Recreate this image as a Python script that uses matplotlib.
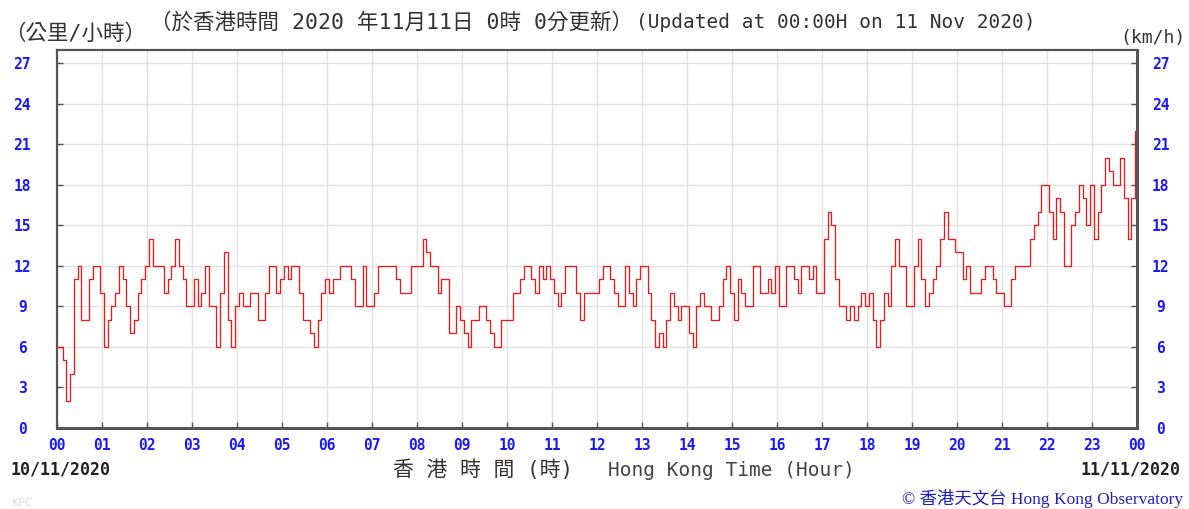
import matplotlib.pyplot as plt
import numpy as np

# wind speed (km/h) every 5 minutes, 10/11/2020 00:00 -> 11/11/2020 00:00
minutes = np.arange(0, 24 * 60 + 1, 5)
speed = [
    6, 6, 5, 2, 4, 11, 12, 8, 8, 11, 12, 12, 10,
    6, 8, 9, 10, 12, 11, 9, 7, 8, 10, 11, 12,
    14, 12, 12, 12, 10, 11, 12, 14, 12, 11, 9, 9,
    11, 9, 10, 12, 9, 9, 6, 10, 13, 8, 6, 9,
    10, 9, 9, 10, 10, 8, 8, 10, 12, 12, 10, 11,
    12, 11, 12, 12, 10, 8, 8, 7, 6, 8, 10, 11,
    10, 11, 11, 12, 12, 12, 11, 9, 9, 12, 9, 9,
    10, 12, 12, 12, 12, 12, 11, 10, 10, 10, 12, 12,
    12, 14, 13, 12, 12, 10, 11, 11, 7, 7, 9, 8,
    7, 6, 8, 8, 9, 9, 8, 7, 6, 6, 8, 8,
    8, 10, 10, 11, 12, 12, 11, 10, 12, 11, 12, 11,
    10, 9, 10, 12, 12, 12, 10, 8, 10, 10, 10, 10,
    11, 12, 12, 11, 10, 9, 9, 12, 10, 9, 11, 12,
    12, 10, 8, 6, 7, 6, 8, 10, 9, 8, 9, 9,
    7, 6, 9, 10, 9, 9, 8, 8, 9, 11, 12, 10,
    8, 11, 10, 9, 9, 12, 12, 10, 10, 11, 10, 12,
    9, 9, 12, 12, 11, 10, 12, 12, 11, 12, 10, 10,
    14, 16, 15, 11, 9, 9, 8, 9, 8, 9, 10, 9,
    10, 8, 6, 8, 10, 9, 12, 14, 12, 12, 9, 9,
    12, 14, 11, 9, 10, 11, 12, 14, 16, 14, 14, 13,
    13, 11, 12, 10, 10, 10, 11, 12, 12, 11, 10, 10,
    9, 9, 11, 12, 12, 12, 12, 14, 15, 16, 18, 18,
    16, 14, 17, 16, 12, 12, 15, 16, 18, 17, 15, 18,
    14, 16, 18, 20, 19, 18, 18, 20, 17, 14, 17, 22,
]
hour_labels = ['%02d' % (h % 24) for h in range(25)]
y_ticks = list(range(0, 28, 3))

W, H = 1189, 509
mono_cjk = ['DejaVu Sans Mono', 'Noto Sans CJK TC']
blue = '#1818f8'
frame = '#555555'

fig = plt.figure(figsize=(W / 100, H / 100), dpi=100)
ax = fig.add_axes([57 / W, 81 / H, 1080 / W, 378 / H])
ax.plot(minutes / 60, speed, color='#ff1010', lw=0.9, drawstyle='steps-mid')

ax.set_xlim(0, 24)
ax.set_ylim(0, 27.96)
ax.set_xticks(range(25))
ax.set_xticklabels(hour_labels)
ax.set_yticks(y_ticks)
ax.grid(color='#e2e2e2', lw=1.0)
ax.set_axisbelow(True)
for s in ax.spines.values():
    s.set_color(frame)
    s.set_linewidth(1.6)
ax.spines['right'].set_linewidth(2.2)
ax.spines['bottom'].set_linewidth(2.2)

tick_font = dict(family='DejaVu Sans Mono', weight='bold', size=10.5)
ax.tick_params(axis='x', direction='in', length=4, width=1, color=frame,
               labelcolor=blue, pad=7)
ax.tick_params(axis='y', direction='in', length=4, width=1, color=frame,
               labelcolor=blue, pad=25)
for lbl in ax.get_xticklabels() + ax.get_yticklabels():
    lbl.set_fontproperties(tick_font)
for lbl in ax.get_yticklabels():
    lbl.set_ha('center')

ax2 = ax.twinx()
ax2.set_ylim(ax.get_ylim())
ax2.set_yticks(y_ticks)
ax2.tick_params(axis='y', direction='in', length=4, width=1, color=frame,
                labelcolor=blue, pad=17)
for lbl in ax2.get_yticklabels():
    lbl.set_fontproperties(tick_font)
    lbl.set_ha('center')
for s in ax2.spines.values():
    s.set_visible(False)


def px(x, y):
    return x / W, 1 - y / H


fig.text(*px(4, 34), '（公里/小時）', family=mono_cjk, fontsize=15.5,
         color='#333333', va='center', ha='left')
fig.text(*px(150, 22), '（於香港時間 2020 年11月11日 0時 0分更新）', family=mono_cjk,
         fontsize=15.5, color='#333333', va='center', ha='left')
fig.text(*px(636, 22), '(Updated at 00:00H on 11 Nov 2020)', family=mono_cjk,
         fontsize=14, color='#333333', va='center', ha='left')
fig.text(*px(1186, 38), '(km/h)', family=mono_cjk, fontsize=13,
         color='#333333', va='center', ha='right')

fig.text(*px(10, 470), '10/11/2020', family='DejaVu Sans Mono', weight='bold',
         fontsize=12, color='#222222', va='center', ha='left')
fig.text(*px(1181, 470), '11/11/2020', family='DejaVu Sans Mono', weight='bold',
         fontsize=12, color='#222222', va='center', ha='right')
fig.text(*px(393, 470), '香 港 時 間 (時)', family=mono_cjk, fontsize=15,
         color='#333333', va='center', ha='left')
fig.text(*px(608, 470), 'Hong Kong Time (Hour)', family=mono_cjk, fontsize=14,
         color='#444444', va='center', ha='left')

fig.text(*px(12, 503), 'KPC', fontsize=8, color='#dddddd', va='center', ha='left')
fig.text(*px(1183, 499), '© 香港天文台 Hong Kong Observatory',
         family=['Liberation Serif', 'Noto Sans CJK TC'], fontsize=12.5,
         color='#2020c0', va='center', ha='right')

fig.savefig('out.png', dpi=100)
